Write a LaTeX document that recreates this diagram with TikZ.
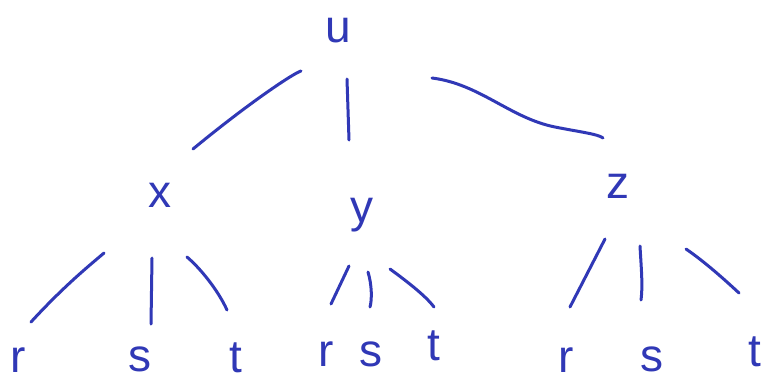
\documentclass[tikz,border=0pt]{standalone}
\usepackage{fontspec}
\setmainfont{Liberation Sans}
\definecolor{ink}{RGB}{48,56,182}
\begin{document}
\begin{tikzpicture}[x=1pt,y=-1pt,
  lab/.style={text=ink,font=\fontsize{46}{50}\selectfont,anchor=base,inner sep=0pt},
  edge/.style={draw=ink,line width=3pt,line cap=round}]
\useasboundingbox (0,0) rectangle (772,384);
\fill[white] (0,0) rectangle (772,384);
% labels
\node[lab] (u) at (338,42) {u};
\node[lab] (x) at (160,207) {x};
\node[lab] (y) at (362,222) {y};
\node[lab] (z) at (618,198) {z};
\node[lab] (r1) at (18,372) {r};
\node[lab] (s1) at (140,371) {s};
\node[lab] (t1) at (236,372) {t};
\node[lab] (r2) at (326,366) {r};
\node[lab] (s2) at (371,366) {s};
\node[lab] (t2) at (434,360) {t};
\node[lab] (r3) at (566,372) {r};
\node[lab] (s3) at (652,371) {s};
\node[lab] (t3) at (755,366) {t};
% connector end points
\coordinate (ua1) at (301,71); \coordinate (ua2) at (193,149);
\coordinate (ub1) at (347,79); \coordinate (ub2) at (349,140);
\coordinate (uc1) at (432,78); \coordinate (uc2) at (603,138);
\coordinate (xa1) at (104,253); \coordinate (xa2) at (31,322);
\coordinate (xb1) at (152,258); \coordinate (xb2) at (151,324);
\coordinate (xc1) at (187,257); \coordinate (xc2) at (227,310);
\coordinate (ya1) at (349,266); \coordinate (ya2) at (331,304);
\coordinate (yb1) at (368,272); \coordinate (yb2) at (370,307);
\coordinate (yc1) at (390,269); \coordinate (yc2) at (434,307);
\coordinate (za1) at (605,239); \coordinate (za2) at (570,307);
\coordinate (zb1) at (640,246); \coordinate (zb2) at (641,300);
\coordinate (zc1) at (686,249); \coordinate (zc2) at (739,293);
% connectors
\draw[edge] (ua1) .. controls (294,73) and (250,102) .. (ua2);
\draw[edge] (ub1) -- (ub2);
\draw[edge] (uc1) .. controls (480,84) and (510,118) .. (555,127) .. controls (580,132) and (598,134) .. (uc2);
\draw[edge] (xa1) .. controls (90,265) and (65,285) .. (xa2);
\draw[edge] (xb1) -- (xb2);
\draw[edge] (xc1) .. controls (200,268) and (218,290) .. (xc2);
\draw[edge] (ya1) -- (ya2);
\draw[edge] (yb1) .. controls (372,285) and (372,300) .. (yb2);
\draw[edge] (yc1) .. controls (405,280) and (425,295) .. (yc2);
\draw[edge] (za1) -- (za2);
\draw[edge] (zb1) .. controls (641,265) and (643,285) .. (zb2);
\draw[edge] (zc1) .. controls (705,262) and (725,280) .. (zc2);
\end{tikzpicture}
\end{document}
